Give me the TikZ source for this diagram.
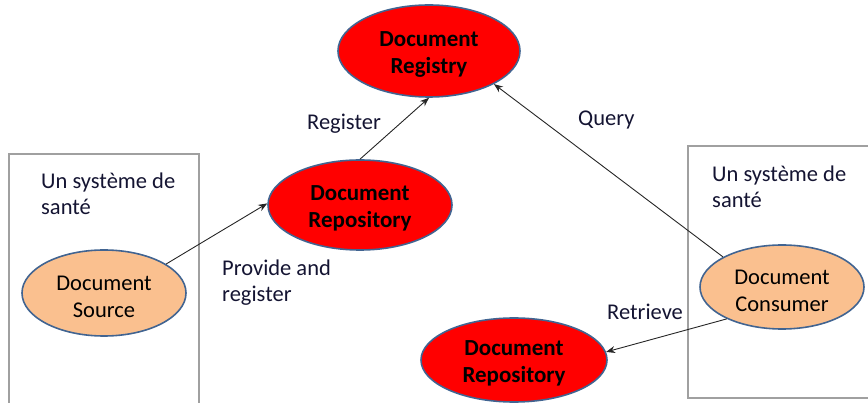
\documentclass[tikz,border=0pt]{standalone}
\usepackage{fontspec}
\setmainfont{Carlito}
\usetikzlibrary{shapes.geometric,arrows.meta}
\definecolor{actorred}{RGB}{255,0,0}
\definecolor{actororange}{RGB}{250,192,143}
\definecolor{outlineblue}{RGB}{65,100,145}
\definecolor{boxgray}{RGB}{160,160,160}
\definecolor{labelink}{RGB}{20,20,50}
% invisible strut that sits the two-line actor captions a little lower
\newcommand\capstrut{\rule{0pt}{22pt}}
\tikzset{
  actor/.style={ellipse, draw=outlineblue, line width=1.6pt, inner sep=0pt,
    align=center, font=\fontsize{22.5}{26.5}\selectfont},
  registryactor/.style={actor, fill=actorred, font=\fontsize{23}{26.5}\selectfont\bfseries},
  clientactor/.style={actor, fill=actororange},
  sysbox/.style={draw=boxgray, line width=1.8pt},
  lbl/.style={inner sep=0pt, align=left, text=labelink, font=\fontsize{22.5}{26}\selectfont},
  flow/.style={draw=black!85, line width=0.9pt, -{Stealth[length=9pt,width=7pt]}}
}
\begin{document}
\begin{tikzpicture}[x=1pt,y=-1pt]
  \useasboundingbox (0,0) rectangle (868,403);
  % health-system boundaries
  \draw[sysbox] (9,405) -- (9,154) -- (199,154) -- (199,405);
  \draw[sysbox] (870,398) -- (688,398) -- (688,146) -- (870,146);
  \node[lbl, anchor=west] (sysA) at (41,194) {Un système de\\santé};
  \node[lbl, anchor=west] (sysB) at (712,187) {Un système de\\santé};
  % actors
  \node[registryactor, minimum width=182pt, minimum height=92pt] (registry) at (429,51) {\capstrut Document\\Registry};
  \node[registryactor, minimum width=184pt, minimum height=90pt] (repoA) at (360,205) {\capstrut Document\\Repository};
  \node[registryactor, minimum width=186pt, minimum height=84pt] (repoB) at (514,360) {\capstrut Document\\Repository};
  \node[clientactor, minimum width=164pt, minimum height=86pt] (source) at (104,293) {\capstrut Document\\Source};
  \node[clientactor, minimum width=164pt, minimum height=84pt] (consumer) at (782,287) {\capstrut Document\\Consumer};
  % transactions
  \draw[flow] (source.25) -- (repoA.179);
  \draw[flow] (repoA.90) -- (registry.270);
  \draw[flow] (consumer.153) -- (registry.333);
  \draw[flow] (consumer.210) -- (repoB.5);
  % transaction labels
  \node[lbl, anchor=west] (lblProvide) at (222,283) {Provide and\\register};
  \node[lbl, anchor=base west] (lblRegister) at (307,130) {Register};
  \node[lbl, anchor=base west] (lblQuery) at (578,126) {Query};
  \node[lbl, anchor=base west] (lblRetrieve) at (607,320) {Retrieve};
\end{tikzpicture}
\end{document}
